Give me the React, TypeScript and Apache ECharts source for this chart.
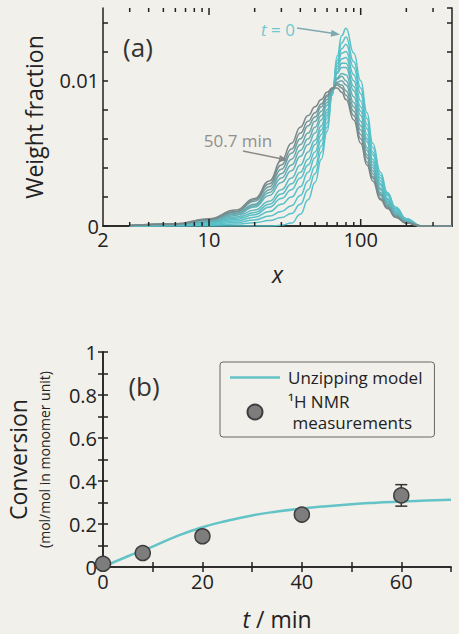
import React, { useEffect, useRef } from 'react';
import * as echarts from 'echarts';

// ---------- Panel (a): weight fraction distributions ----------
const chainLengths = [3, 6, 10, 15, 20, 25, 30, 35, 40, 45, 50, 55, 60, 65, 70, 75, 80, 90, 100, 110, 120, 135, 150, 170, 200, 250, 400];

const weightFractionT0 = [0, 0, 0, 0, 0, 0, 0.00005, 0.0002, 0.0008, 0.0018, 0.003, 0.0046, 0.0065, 0.009, 0.0117, 0.0131, 0.0136, 0.0119, 0.01, 0.0078, 0.0057, 0.0037, 0.0023, 0.0013, 0.0005, 0, 0];
const weightFraction1 = [0, 0.00002, 0.00006, 0.00013, 0.00023, 0.00037, 0.00058, 0.00086, 0.0015, 0.0025, 0.0036, 0.0051, 0.0068, 0.0091, 0.0114, 0.0126, 0.013, 0.0113, 0.0095, 0.0074, 0.0054, 0.0035, 0.0022, 0.0012, 0.0005, 0, 0];
const weightFraction2 = [0.00001, 0.00003, 0.00011, 0.00024, 0.00042, 0.00068, 0.001, 0.0014, 0.0021, 0.0031, 0.0041, 0.0055, 0.0071, 0.0091, 0.0112, 0.0122, 0.0125, 0.0109, 0.0091, 0.007, 0.0051, 0.0033, 0.0021, 0.0012, 0.0004, 0, 0];
const weightFraction3 = [0.00001, 0.00005, 0.00016, 0.00035, 0.00061, 0.00099, 0.0015, 0.002, 0.0027, 0.0037, 0.0047, 0.0059, 0.0074, 0.0092, 0.011, 0.0119, 0.012, 0.0104, 0.0086, 0.0067, 0.0049, 0.0031, 0.0019, 0.0011, 0.0004, 0, 0];
const weightFraction4 = [0.00001, 0.00006, 0.00021, 0.00045, 0.00078, 0.0013, 0.0019, 0.0025, 0.0033, 0.0042, 0.0051, 0.0063, 0.0076, 0.0092, 0.0108, 0.0115, 0.0116, 0.01, 0.0082, 0.0063, 0.0046, 0.0029, 0.0019, 0.001, 0.0004, 0, 0];
const weightFraction5 = [0.00001, 0.00007, 0.00025, 0.00054, 0.00093, 0.0015, 0.0022, 0.0029, 0.0037, 0.0046, 0.0056, 0.0066, 0.0078, 0.0092, 0.0106, 0.0112, 0.0112, 0.0096, 0.0079, 0.006, 0.0044, 0.0028, 0.0018, 0.001, 0.0004, 0, 0];
const weightFraction6 = [0.00002, 0.00008, 0.00028, 0.00062, 0.0011, 0.0017, 0.0025, 0.0033, 0.0042, 0.0051, 0.0059, 0.0069, 0.008, 0.0093, 0.0105, 0.0109, 0.0109, 0.0093, 0.0076, 0.0058, 0.0042, 0.0026, 0.0017, 0.0009, 0.0003, 0, 0];
const weightFraction7 = [0.00002, 0.0001, 0.00033, 0.00073, 0.0013, 0.0021, 0.003, 0.0038, 0.0048, 0.0056, 0.0064, 0.0073, 0.0083, 0.0093, 0.0102, 0.0105, 0.0104, 0.0089, 0.0072, 0.0054, 0.004, 0.0025, 0.0016, 0.0008, 0.0003, 0, 0];
const weightFraction8 = [0.00002, 0.00011, 0.00037, 0.0008, 0.0014, 0.0023, 0.0033, 0.0042, 0.0052, 0.006, 0.0068, 0.0076, 0.0085, 0.0094, 0.0101, 0.0103, 0.01, 0.0085, 0.0069, 0.0052, 0.0038, 0.0023, 0.0015, 0.0008, 0.0003, 0, 0];
const weightFraction9 = [0.00002, 0.00012, 0.0004, 0.00088, 0.0015, 0.0025, 0.0036, 0.0046, 0.0056, 0.0064, 0.0072, 0.0079, 0.0087, 0.0094, 0.0099, 0.01, 0.0097, 0.0082, 0.0066, 0.0049, 0.0036, 0.0022, 0.0014, 0.0007, 0.0003, 0, 0];
const weightFraction10 = [0.00003, 0.00013, 0.00044, 0.00096, 0.0017, 0.0027, 0.0039, 0.005, 0.006, 0.0069, 0.0075, 0.0082, 0.0089, 0.0094, 0.0098, 0.0097, 0.0093, 0.0079, 0.0063, 0.0047, 0.0034, 0.0021, 0.0013, 0.0007, 0.0002, 0, 0];
const weightFraction11 = [0.00003, 0.00014, 0.00047, 0.001, 0.0018, 0.0029, 0.0042, 0.0053, 0.0064, 0.0072, 0.0078, 0.0084, 0.009, 0.0095, 0.0097, 0.0095, 0.009, 0.0076, 0.006, 0.0044, 0.0033, 0.0019, 0.0013, 0.0006, 0.0002, 0, 0];
const weightFractionEnd = [0.00003, 0.00015, 0.0005, 0.0011, 0.0019, 0.0031, 0.0045, 0.0057, 0.0068, 0.0076, 0.0082, 0.0087, 0.0092, 0.0095, 0.0095, 0.0092, 0.0087, 0.0073, 0.0057, 0.0042, 0.0031, 0.0018, 0.0012, 0.0006, 0.0002, 0, 0];

const distributionCurves = [
  weightFractionT0, weightFraction1, weightFraction2, weightFraction3, weightFraction4,
  weightFraction5, weightFraction6, weightFraction7, weightFraction8, weightFraction9,
  weightFraction10, weightFraction11, weightFractionEnd,
];

const xTicksA = [3, 4, 5, 6, 7, 8, 9, 10, 20, 30, 40, 50, 60, 70, 80, 90, 100, 200, 300];
const xMajorTicksA = [10, 100];
const xTickLabelsA = [2, 10, 100];
const yTickLabelsA = [0, 0.01];

// ---------- Panel (b): conversion ----------
const modelTime = [0, 5, 10, 15, 20, 25, 30, 35, 40, 45, 50, 55, 60, 65, 70];
const modelConversion = [0, 0.05, 0.095, 0.145, 0.185, 0.215, 0.24, 0.258, 0.272, 0.283, 0.292, 0.299, 0.305, 0.309, 0.313];
const nmrTime = [0, 8, 20, 40, 60];
const nmrConversion = [0.015, 0.065, 0.143, 0.244, 0.333];
const nmrError = [0, 0, 0, 0, 0.05];
const xTickLabelsB = [0, 20, 40, 60];
const yTickLabelsB = [0, 0.2, 0.4, 0.6, 0.8, 1];

const FONT = '"Open Sans", "Noto Sans", sans-serif';
const AXIS_COLOR = '#222';
const BG = '#f2f0eb';
const MODEL_COLOR = '#63c3c7';

const near = (v: number, list: number[], tol = 1e-6) => list.some((t) => Math.abs(v - t) <= tol * Math.max(1, Math.abs(t)));

function curveColor(k: number, n: number) {
  const f = Math.pow(k / (n - 1), 2.6);
  const c0 = [88, 194, 202];
  const c1 = [122, 134, 136];
  const c = c0.map((v, i) => Math.round(v + (c1[i] - v) * f));
  return `rgb(${c[0]},${c[1]},${c[2]})`;
}

export default function App() {
  const ref = useRef<HTMLDivElement>(null);

  useEffect(() => {
    if (!ref.current) return;
    const chart = echarts.init(ref.current, undefined, { renderer: 'svg' });

    const labelStyle = { color: AXIS_COLOR, fontSize: 20, fontFamily: FONT };
    const axisLine = { show: true, lineStyle: { color: AXIS_COLOR, width: 1.5 } };

    const curveSeries = distributionCurves.map((vals, k) => ({
      type: 'line',
      name: k === 0 ? 't = 0' : k === distributionCurves.length - 1 ? '50.7 min' : `curve ${k}`,
      xAxisIndex: 0,
      yAxisIndex: 0,
      data: vals.map((y, i) => [chainLengths[i], y]),
      smooth: 0.5,
      smoothMonotone: 'x',
      symbol: 'none',
      lineStyle: { color: curveColor(k, distributionCurves.length), width: 1.5 },
      z: 2 + k * 0.01,
      silent: true,
    }));

    const tickSeriesA = {
      type: 'custom',
      xAxisIndex: 0,
      yAxisIndex: 0,
      silent: true,
      clip: false,
      z: 10,
      data: xTicksA.map((v) => [v, 0]),
      renderItem: (_p: any, api: any) => {
        const v = api.value(0);
        const b = api.coord([v, 0]);
        const t = api.coord([v, 0.015]);
        const len = xMajorTicksA.includes(v) ? 7 : 4;
        const style = { stroke: AXIS_COLOR, lineWidth: 1.5 };
        return {
          type: 'group',
          children: [
            { type: 'line', shape: { x1: b[0], y1: b[1], x2: b[0], y2: b[1] - len }, style },
            { type: 'line', shape: { x1: t[0], y1: t[1], x2: t[0], y2: t[1] + len }, style },
          ],
        };
      },
    };

    const errorData = nmrTime
      .map((t, i) => [t, nmrConversion[i] - nmrError[i], nmrConversion[i] + nmrError[i], nmrError[i]])
      .filter((d) => d[3] > 0);

    const option: any = {
      animation: false,
      backgroundColor: BG,
      textStyle: { fontFamily: FONT },
      grid: [
        { left: 103, top: 8, right: 7, bottom: 408, containLabel: false, outerBoundsMode: 'none' },
        { left: 103, top: 352, right: 8, bottom: 67, containLabel: false, outerBoundsMode: 'none' },
      ],
      xAxis: [
        {
          type: 'log', logBase: 10, gridIndex: 0, min: 2, max: 400, position: 'bottom',
          axisLine, axisTick: { show: false }, splitLine: { show: false },
          axisLabel: {
            ...labelStyle, margin: 3, showMinLabel: true, showMaxLabel: true,
            formatter: (v: number) => (near(v, xTickLabelsA, 1e-3) ? String(Math.round(v)) : ''),
          },
          name: 'x', nameLocation: 'middle', nameGap: 36,
          nameTextStyle: { fontSize: 23, fontStyle: 'italic', fontFamily: FONT, color: AXIS_COLOR },
        },
        {
          type: 'log', logBase: 10, gridIndex: 0, min: 2, max: 400, position: 'top',
          axisLine, axisTick: { show: false }, axisLabel: { show: false }, splitLine: { show: false },
        },
        {
          type: 'value', gridIndex: 1, min: 0, max: 70, interval: 10, position: 'bottom',
          axisLine, splitLine: { show: false },
          axisTick: { inside: true, length: 5, lineStyle: { color: AXIS_COLOR, width: 1.5 } },
          axisLabel: {
            ...labelStyle, margin: 4, showMaxLabel: false,
            formatter: (v: number) => (near(v, xTickLabelsB) ? String(v) : ''),
          },
          name: '{i|t} / min', nameLocation: 'middle', nameGap: 40,
          nameTextStyle: {
            fontSize: 23, fontFamily: FONT, color: AXIS_COLOR,
            rich: { i: { fontSize: 23, fontStyle: 'italic', fontFamily: FONT, color: AXIS_COLOR } },
          },
        },
        {
          type: 'value', gridIndex: 1, min: 0, max: 70, interval: 10, position: 'top',
          axisLine, splitLine: { show: false }, axisLabel: { show: false },
          axisTick: { inside: true, length: 5, lineStyle: { color: AXIS_COLOR, width: 1.5 } },
        },
      ],
      yAxis: [
        {
          type: 'value', gridIndex: 0, min: 0, max: 0.015, interval: 0.002, position: 'left',
          axisLine, splitLine: { show: false },
          axisTick: { inside: true, length: 5, lineStyle: { color: AXIS_COLOR, width: 1.5 } },
          axisLabel: {
            ...labelStyle, margin: 4, showMaxLabel: false,
            formatter: (v: number) => (near(v, yTickLabelsA, 1e-4) ? (v === 0 ? '0' : String(v)) : ''),
          },
          name: 'Weight fraction', nameLocation: 'middle', nameGap: 58, nameRotate: 90,
          nameTextStyle: { fontSize: 23, fontFamily: FONT, color: AXIS_COLOR },
        },
        {
          type: 'value', gridIndex: 0, min: 0, max: 0.015, interval: 0.002, position: 'right',
          axisLine, splitLine: { show: false }, axisLabel: { show: false },
          axisTick: { inside: true, length: 5, lineStyle: { color: AXIS_COLOR, width: 1.5 } },
        },
        {
          type: 'value', gridIndex: 1, min: 0, max: 1, interval: 0.1, position: 'left',
          axisLine, splitLine: { show: false },
          axisTick: { inside: true, length: 5, lineStyle: { color: AXIS_COLOR, width: 1.5 } },
          axisLabel: {
            ...labelStyle, margin: 6,
            formatter: (v: number) => (near(v, yTickLabelsB) ? String(Math.round(v * 10) / 10) : ''),
          },
          name: '{a|Conversion}\n{b|(mol/mol in monomer unit)}',
          nameLocation: 'middle', nameGap: 50, nameRotate: 90,
          nameTextStyle: {
            color: AXIS_COLOR, fontFamily: FONT,
            rich: {
              a: { fontSize: 23, lineHeight: 34, fontFamily: FONT, color: AXIS_COLOR },
              b: { fontSize: 14, lineHeight: 18, fontFamily: FONT, color: AXIS_COLOR },
            },
          },
        },
        {
          type: 'value', gridIndex: 1, min: 0, max: 1, interval: 0.1, position: 'right',
          axisLine, splitLine: { show: false }, axisLabel: { show: false },
          axisTick: { inside: true, length: 5, lineStyle: { color: AXIS_COLOR, width: 1.5 } },
        },
      ],
      legend: {
        show: true,
        left: 220,
        top: 362,
        orient: 'vertical',
        padding: [5, 12, 4, 10],
        itemGap: 3,
        itemWidth: 50,
        itemHeight: 15,
        borderColor: '#666',
        borderWidth: 1,
        borderRadius: 3,
        selectedMode: false,
        textStyle: { fontSize: 17, lineHeight: 21, fontFamily: FONT, color: AXIS_COLOR, padding: [0, 0, 0, 3] },
        data: [
          { name: 'Unzipping model', icon: 'path://M0,0 L50,0 L50,2.5 L0,2.5 Z', itemStyle: { color: MODEL_COLOR } },
          { name: '¹H NMR measurements', icon: 'circle' },
        ],
        formatter: (name: string) => (name === '¹H NMR measurements' ? '¹H NMR\n measurements' : name),
      },
      series: [
        ...curveSeries,
        tickSeriesA,
        {
          type: 'line',
          name: 'Unzipping model',
          xAxisIndex: 2,
          yAxisIndex: 2,
          data: modelTime.map((t, i) => [t, modelConversion[i]]),
          smooth: true,
          symbol: 'none',
          showSymbol: false,
          itemStyle: { color: MODEL_COLOR },
          lineStyle: { color: MODEL_COLOR, width: 2.5 },
          z: 3,
        },
        {
          type: 'custom',
          name: 'error',
          xAxisIndex: 2,
          yAxisIndex: 2,
          silent: true,
          z: 4,
          data: errorData,
          encode: { x: 0, y: [1, 2] },
          renderItem: (_p: any, api: any) => {
            const x = api.value(0);
            const lo = api.coord([x, api.value(1)]);
            const hi = api.coord([x, api.value(2)]);
            const style = { stroke: '#333', lineWidth: 1.5 };
            const cap = 6;
            return {
              type: 'group',
              children: [
                { type: 'line', shape: { x1: lo[0], y1: lo[1], x2: hi[0], y2: hi[1] }, style },
                { type: 'line', shape: { x1: lo[0] - cap, y1: lo[1], x2: lo[0] + cap, y2: lo[1] }, style },
                { type: 'line', shape: { x1: hi[0] - cap, y1: hi[1], x2: hi[0] + cap, y2: hi[1] }, style },
              ],
            };
          },
        },
        {
          type: 'scatter',
          name: '¹H NMR measurements',
          xAxisIndex: 2,
          yAxisIndex: 2,
          data: nmrTime.map((t, i) => [t, nmrConversion[i]]),
          symbol: 'circle',
          symbolSize: 15,
          clip: false,
          itemStyle: { color: '#7d7d7d', borderColor: '#3d3d3d', borderWidth: 1.5, opacity: 1 },
          z: 5,
        },
      ],
      graphic: [
        {
          type: 'text', x: 138, y: 47, silent: true,
          style: { text: '(a)', fontSize: 26, fontFamily: FONT, fill: '#333', align: 'center', verticalAlign: 'middle' },
        },
        {
          type: 'text', x: 144, y: 386, silent: true,
          style: { text: '(b)', fontSize: 26, fontFamily: FONT, fill: '#333', align: 'center', verticalAlign: 'middle' },
        },
        {
          type: 'text', x: 278, y: 29, silent: true,
          style: {
            text: '{i|t} = 0', fontSize: 17, fontFamily: FONT, fill: '#6cc8d1', align: 'center', verticalAlign: 'middle',
            rich: { i: { fontSize: 17, fontStyle: 'italic', fontFamily: FONT, fill: '#6cc8d1' } },
          },
        },
        {
          type: 'line', silent: true,
          shape: { x1: 297, y1: 28, x2: 334, y2: 33.5 },
          style: { stroke: '#7fa9b0', lineWidth: 1.5 },
        },
        {
          type: 'polygon', silent: true,
          shape: { points: [[340, 34.5], [330.6, 36.7], [331.6, 29.7]] },
          style: { fill: '#7fa9b0' },
        },
        {
          type: 'text', x: 238, y: 140, silent: true,
          style: { text: '50.7 min', fontSize: 17, fontFamily: FONT, fill: '#8f8f8f', align: 'center', verticalAlign: 'middle' },
        },
        {
          type: 'line', silent: true,
          shape: { x1: 243, y1: 151, x2: 281, y2: 158.8 },
          style: { stroke: '#8a8a8a', lineWidth: 1.5 },
        },
        {
          type: 'polygon', silent: true,
          shape: { points: [[288, 160.2], [278.5, 161.8], [279.9, 155]] },
          style: { fill: '#8a8a8a' },
        },
      ],
    };

    chart.setOption(option);
    return () => chart.dispose();
  }, []);

  return (
    <div style={{ position: 'fixed', left: 0, top: 0, width: 459, height: 634, background: BG }}>
      <div ref={ref} style={{ width: 459, height: 634 }} />
    </div>
  );
}
